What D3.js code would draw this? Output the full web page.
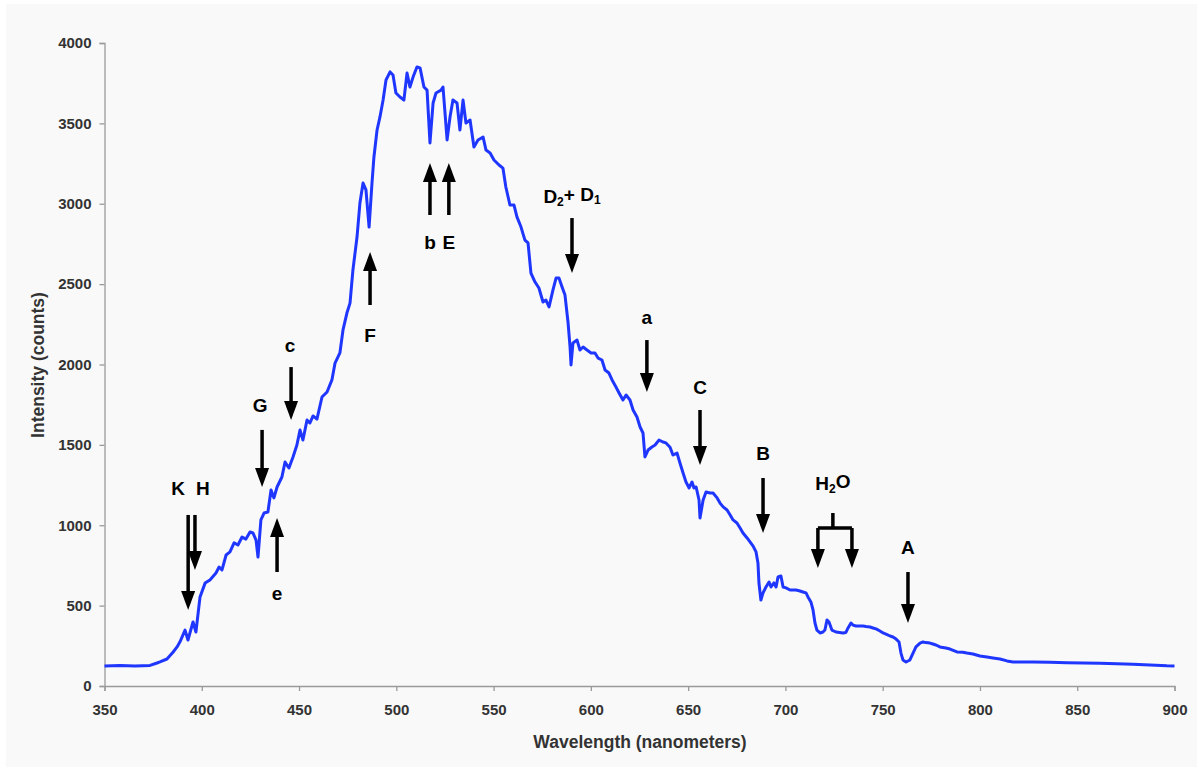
<!DOCTYPE html>
<html>
<head>
<meta charset="utf-8">
<script src="https://cdn.jsdelivr.net/npm/d3@7"></script>
<style>
  body { margin: 0; background: #fff; }
  svg { display: block; font-family: "Liberation Sans", Arial, sans-serif; }
</style>
</head>
<body>
<svg id="chart" width="1199" height="769"></svg>
<script>
// solar spectrum
const wavelength = [
  350, 358, 365.7, 373.4, 377, 378.5, 382.1, 385.2, 387.3, 388.8, 391.4, 392.9, 395.5, 397, 399.1,
  401.7, 404.2, 407.3, 408.9, 410.4, 412.5, 414.5, 416.6, 418.6, 420.7, 422.7, 424.8, 426.3, 427.9,
  428.9, 430.4, 432, 434, 435.6, 437.1, 438.7, 441.2, 442.8, 444.8, 446.9, 448.9, 450.5, 452, 454.1,
  455.6, 457.2, 459.2, 461.8, 464.4, 466.9, 468.5, 471, 472.6, 474.6, 476.2, 477.7, 479.8, 481.3,
  482.9, 484.4, 486, 487.5, 488.5, 490.1, 491.6, 493.2, 494.7, 496.8, 498.3, 499.8, 501.9, 503.9,
  505.5, 507, 508.6, 510.6, 512.2, 514.2, 515.8, 517.3, 518.9, 520.4, 523, 524, 526.1, 527.6, 529.1,
  531.2, 532.7, 534.3, 535.8, 537.9, 539.9, 542, 544.6, 546.1, 548.2, 550.2, 552.8, 554.8, 556.3,
  558.4, 560.5, 562, 564.1, 566.1, 567.7, 569.2, 571.3, 573.3, 575.4, 576.9, 578.5, 580.5, 582.1,
  583.6, 585.2, 586.7, 588.3, 589.3, 589.8, 590.8, 592.9, 594.4, 596, 598, 600.1, 602.1, 603.7,
  605.7, 607.3, 609.3, 610.9, 612.9, 614.5, 616.5, 618.1, 620.1, 621.7, 623.7, 625.3, 626.8, 627.8,
  629.4, 631.4, 633, 635, 637.1, 638.6, 640.7, 642.2, 644.3, 645.8, 647.4, 648.9, 650.5, 652, 653,
  654.1, 655.6, 656.1, 657.7, 659.2, 661.3, 662.8, 664.9, 666.4, 668, 670, 671.6, 673.1, 675.1,
  676.7, 678.2, 680.3, 681.8, 683.4, 684.9, 685.9, 686.4, 687.4, 688.5, 690, 691.6, 692.6, 694.1,
  695.2, 696.2, 697.7, 698.8, 700.3, 702.4, 705.4, 707.5, 709, 710.6, 711.6, 713.1, 714.2, 715.2,
  716.2, 717.8, 719.3, 720.3, 721.4, 722.4, 723.9, 726, 729.6, 731.1, 732.2, 733.7, 734.7, 736.3,
  739.9, 741.4, 743.5, 745, 746.6, 748.6, 750.2, 751.7, 753.8, 755.3, 756.9, 758.4, 759.4, 760.4,
  762, 764, 765.6, 767.1, 769.2, 770.7, 772.2, 774.3, 775.8, 777.4, 779.4, 782.5, 784.6, 788.2,
  791.2, 793.3, 796.4, 800, 803.6, 806.7, 810.3, 813.9, 817, 820.6, 827.3, 836, 844.7, 853, 861.7,
  870.4, 878.6, 887.4, 896.1, 900
];
const intensity = [
  125, 128, 124, 128, 143, 150, 168, 210, 243, 275, 348, 286, 398, 336, 554,
  640, 660, 703, 740, 722, 815, 834, 890, 877, 927, 914, 958, 952, 908,
  802, 1033, 1076, 1082, 1219, 1170, 1238, 1300, 1393, 1356, 1425, 1499, 1592, 1530, 1655,
  1636, 1680, 1660, 1798, 1829, 1904, 2009, 2072, 2215, 2320, 2382, 2588, 2793, 3005,
  3129, 3086, 2855, 3129, 3291, 3459, 3540, 3645, 3770, 3820, 3801, 3689, 3664, 3645,
  3813, 3726, 3788, 3851, 3845, 3726, 3707, 3378, 3627, 3689, 3707, 3726, 3397, 3540, 3645,
  3627, 3459, 3645, 3502, 3521, 3353, 3397, 3415, 3334, 3316, 3272, 3241, 3222, 3104,
  2992, 2992, 2918, 2855, 2774, 2756, 2569, 2513, 2476, 2389, 2401, 2358, 2463, 2538,
  2538, 2482, 2432, 2258, 2109, 1997, 2134, 2152, 2090, 2109, 2090, 2072, 2072, 2040,
  2028, 1966, 1947, 1904, 1860, 1823, 1779, 1810, 1779, 1717, 1673, 1611, 1574, 1425,
  1468, 1487, 1499, 1530, 1518, 1512, 1485, 1437, 1449, 1387, 1325, 1269, 1232, 1269, 1232,
  1238, 1157, 1045, 1157, 1207, 1201, 1201, 1170, 1138, 1114, 1095, 1064, 1033, 1014,
  983, 952, 921, 896, 870, 834, 765, 641, 535, 579, 616, 647, 616, 641,
  616, 678, 684, 616, 610, 597, 597, 591, 585, 579, 554, 523, 473, 392,
  348, 330, 336, 348, 411, 398, 348, 336, 330, 333, 361, 392, 379, 373,
  373, 370, 367, 361, 355, 342, 330, 323, 311, 305, 292, 274, 205, 162,
  149, 162, 205, 243, 267, 274, 270, 267, 261, 255, 243, 236, 230, 212,
  210, 205, 199, 187, 180, 174, 168, 156, 149, 150, 149, 148, 145, 143, 142,
  138, 136, 131, 126, 125
];

const xTicks = [350, 400, 450, 500, 550, 600, 650, 700, 750, 800, 850, 900];
const yTicks = [0, 500, 1000, 1500, 2000, 2500, 3000, 3500, 4000];

// single arrows: label, x (nm), arrow start and tip (counts), label position (counts)
const arrowLabels = ["K", "H", "G", "e", "c", "F", "b", "E", "a", "C", "B", "A"];
const arrowX      = [393, 396.5, 431, 438.7, 445.9, 486.5, 517.3, 527, 628.8, 656.1, 688.5, 763];
const arrowFrom   = [1064, 1064, 1593, 709, 1984, 2370, 2930, 2930, 2152, 1717, 1294, 709];
const arrowTo     = [473, 722, 1238, 1045, 1655, 2700, 3253, 3253, 1829, 1375, 952, 392];
const labelX      = [387.8, 400.6, 430, 438.7, 445.4, 486.5, 517.3, 527, 628.8, 656.1, 688.5, 763];
const labelY      = [1232, 1232, 1748, 579, 2121, 2184, 2762, 2762, 2295, 1860, 1449, 865];

const svg = d3.select("#chart");
const width = +svg.attr("width");
const height = +svg.attr("height");

svg.append("rect")
  .attr("x", 6).attr("y", 4)
  .attr("width", width - 8).attr("height", height - 6)
  .attr("fill", "#f9f9f9");

const x = d3.scaleLinear().domain([350, 900]).range([104.5, 1174.5]);
const y = d3.scaleLinear().domain([0, 4000]).range([686, 43]);

const xAxis = svg.append("g")
  .attr("transform", `translate(0,${y(0)})`)
  .call(d3.axisBottom(x).tickValues(xTicks).tickSize(5).tickPadding(13).tickFormat(d3.format("d")));

const yAxis = svg.append("g")
  .attr("transform", `translate(${x(350)},0)`)
  .call(d3.axisLeft(y).tickValues(yTicks).tickSize(5).tickPadding(8).tickFormat(d3.format("d")));

[xAxis, yAxis].forEach(g => {
  g.selectAll(".domain, .tick line").attr("stroke", "#9a9a9a").attr("stroke-width", 1.3);
  g.selectAll("text")
    .attr("fill", "#333")
    .style("font-size", "15px")
    .style("font-weight", "bold");
});

svg.append("text")
  .attr("x", 640).attr("y", 748)
  .attr("text-anchor", "middle")
  .attr("fill", "#333")
  .style("font-size", "17.5px").style("font-weight", "bold")
  .text("Wavelength (nanometers)");

svg.append("text")
  .attr("transform", "translate(44,365) rotate(-90)")
  .attr("text-anchor", "middle")
  .attr("fill", "#333")
  .style("font-size", "17.5px").style("font-weight", "bold")
  .text("Intensity (counts)");

// spectrum
const line = d3.line()
  .x((d, i) => x(wavelength[i]))
  .y(d => y(d));

svg.append("path")
  .datum(intensity)
  .attr("d", line)
  .attr("fill", "none")
  .attr("stroke", "#1f36ff")
  .attr("stroke-width", 3)
  .attr("stroke-linejoin", "round");

// arrows
const ann = svg.append("g");

const drawArrow = (xv, from, to) => {
  const px = x(xv);
  const y0 = y(from);
  const y1 = y(to);
  const dir = y1 > y0 ? 1 : -1;
  const headLen = 19, headHalf = 7;
  ann.append("line")
    .attr("x1", px).attr("x2", px)
    .attr("y1", y0).attr("y2", y1 - dir * headLen + dir)
    .attr("stroke", "#000").attr("stroke-width", 3.5);
  ann.append("path")
    .attr("d", `M${px - headHalf},${y1 - dir * headLen}L${px + headHalf},${y1 - dir * headLen}L${px},${y1}Z`)
    .attr("fill", "#000");
};

const labelText = (xv, yv) => ann.append("text")
  .attr("x", x(xv)).attr("y", y(yv))
  .attr("dy", "0.35em")
  .attr("text-anchor", "middle")
  .attr("fill", "#000")
  .style("font-size", "19px").style("font-weight", "bold");

arrowLabels.forEach((lab, i) => {
  drawArrow(arrowX[i], arrowFrom[i], arrowTo[i]);
  labelText(labelX[i], labelY[i]).text(lab);
});

// sodium doublet
drawArrow(590.3, 2911, 2569);
const dLab = labelText(590.3, 3048);
dLab.append("tspan").text("D");
dLab.append("tspan").attr("dy", "0.3em").style("font-size", "12px").text("2");
dLab.append("tspan").attr("dy", "-0.3em").text("+ D");
dLab.append("tspan").attr("dy", "0.3em").style("font-size", "12px").text("1");

// water bands, bracket with two arrows
const h2oStem = 724.4, h2oLeft = 716.7, h2oRight = 734.2;
ann.append("path")
  .attr("d", `M${x(h2oStem)},${y(1076)}V${y(983)}M${x(h2oLeft)},${y(983)}H${x(h2oRight)}`)
  .attr("fill", "none").attr("stroke", "#000").attr("stroke-width", 3.5);
drawArrow(h2oLeft, 983, 734);
drawArrow(h2oRight, 983, 734);
const hLab = labelText(h2oStem, 1263);
hLab.append("tspan").text("H");
hLab.append("tspan").attr("dy", "0.3em").style("font-size", "12px").text("2");
hLab.append("tspan").attr("dy", "-0.3em").text("O");
</script>
</body>
</html>
